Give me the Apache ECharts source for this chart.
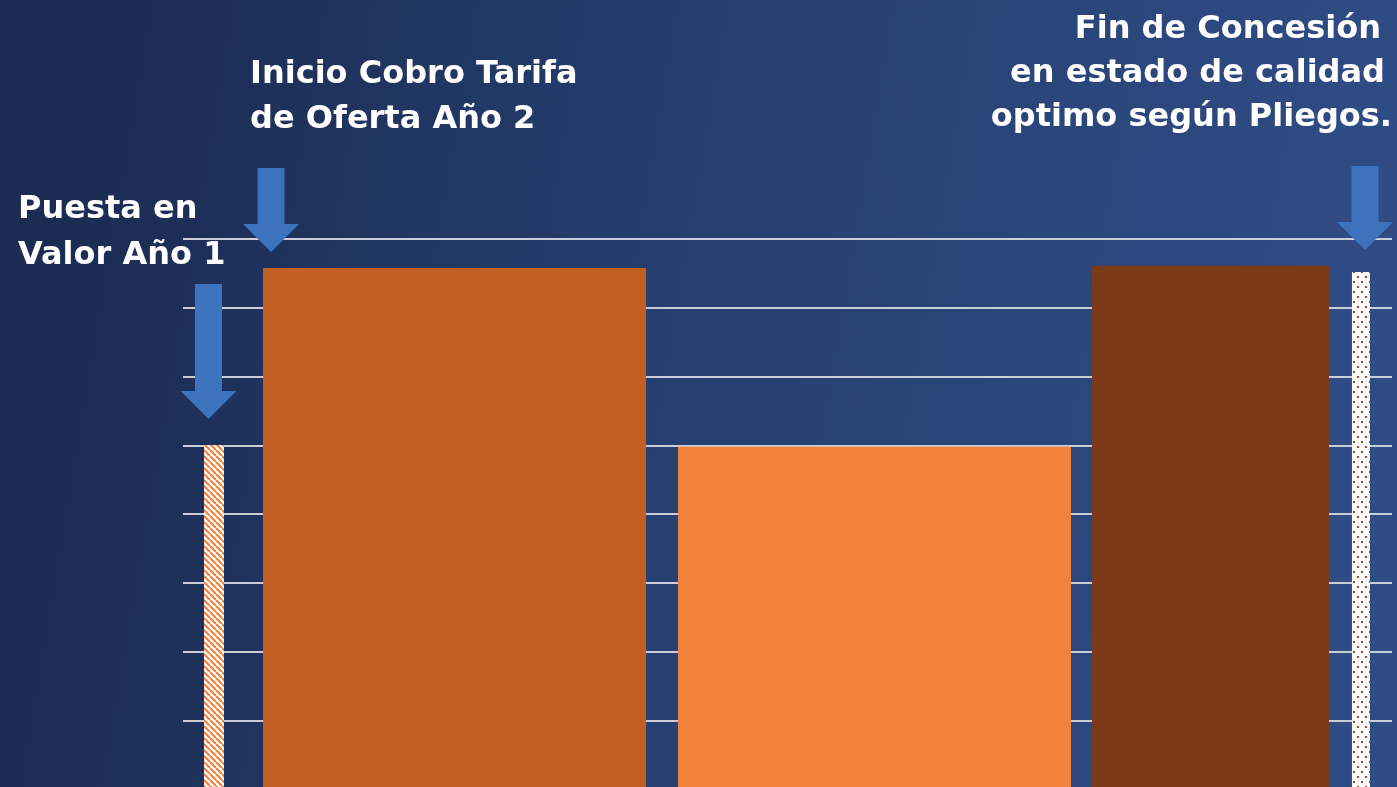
<!DOCTYPE html>
<html>
<head>
<meta charset="utf-8">
<script src="https://cdn.jsdelivr.net/npm/echarts@6/dist/echarts.min.js"></script>
<style>
html,body{margin:0;padding:0;background:#1d2e56;}
#c{width:1397px;height:787px;}
</style>
</head>
<body>
<div id="c"></div>
<script>
// ---- data ----
const categories = ['Puesta en Valor Año 1', 'Tarifa de Oferta', 'Tarifa', 'Fin de Concesión', 'Estado óptimo'];
const barStart = [1.74, 6.62, 40.94, 75.19, 96.69];
const barEnd   = [3.39, 38.30, 73.45, 94.79, 98.18];
const values   = [5.0, 7.58, 4.98, 7.61, 7.52];
const yTicks   = [0, 1, 2, 3, 4, 5, 6, 7, 8];

// ---- patterns ----
function hatchPattern() {
  const c = document.createElement('canvas');
  c.width = 6; c.height = 6;
  const g = c.getContext('2d');
  g.fillStyle = '#ffffff'; g.fillRect(0, 0, 6, 6);
  g.strokeStyle = '#f2813b'; g.lineWidth = 2.2;
  g.beginPath();
  for (let k = -6; k <= 12; k += 6) { g.moveTo(k, 0); g.lineTo(k + 6, 6); }
  g.stroke();
  return c;
}
function dotPattern() {
  const c = document.createElement('canvas');
  c.width = 8; c.height = 10;
  const g = c.getContext('2d');
  g.fillStyle = '#ffffff'; g.fillRect(0, 0, 8, 10);
  g.fillStyle = '#9b4d22';
  g.fillRect(1, 1, 2, 2);
  g.fillRect(5, 6, 2, 2);
  return c;
}
const fills = [
  { image: hatchPattern(), repeat: 'repeat' },
  '#c45f24',
  '#f2813b',
  '#7b3a18',
  { image: dotPattern(), repeat: 'repeat' }
];

const data = categories.map((n, i) => ({ name: n, value: [barStart[i], barEnd[i], values[i]] }));

const chart = echarts.init(document.getElementById('c'), null, { renderer: 'canvas' });

function arrow(cx, top, tip) {
  const sw = 13.5, hw = 28, headTop = tip - 28;
  return {
    type: 'polygon', z: 10,
    shape: { points: [[cx - sw, top], [cx + sw, top], [cx + sw, headTop], [cx + hw, headTop], [cx, tip], [cx - hw, headTop], [cx - sw, headTop]] },
    style: { fill: '#3d72bc' }
  };
}
const FONT = 'bold 32px "DejaVu Sans"';

chart.setOption({
  animation: false,
  backgroundColor: {
    type: 'linear', x: 0, y: 0, x2: 1, y2: 0.3,
    colorStops: [
      { offset: 0, color: '#1b2b51' },
      { offset: 0.16, color: '#1d2f58' },
      { offset: 0.5, color: '#263f6f' },
      { offset: 1, color: '#2f4c85' }
    ]
  },
  grid: { left: 183, width: 1209, top: 239, height: 550, containLabel: false, outerBoundsMode: 'none' },
  xAxis: { type: 'value', min: 0, max: 100, show: false },
  yAxis: {
    type: 'value', min: yTicks[0], max: yTicks[yTicks.length - 1], interval: 1,
    axisLine: { show: false }, axisTick: { show: false }, axisLabel: { show: false },
    splitLine: { show: true, lineStyle: { color: '#c9ced8', width: 2 } }
  },
  series: [{
    type: 'custom',
    data: data,
    clip: false,
    renderItem: function (params, api) {
      const p0 = api.coord([api.value(0), api.value(2)]);
      const p1 = api.coord([api.value(1), 0]);
      return {
        type: 'rect',
        shape: { x: p0[0], y: p0[1], width: p1[0] - p0[0], height: p1[1] - p0[1] },
        style: { fill: fills[params.dataIndex] }
      };
    }
  }],
  graphic: [
    arrow(208.5, 284, 419),
    arrow(271, 168, 252),
    arrow(1365, 166, 250),
    { type: 'text', left: 18, top: 194, style: { text: 'Puesta en', fill: '#fff', font: FONT } },
    { type: 'text', left: 18, top: 240, style: { text: 'Valor Año 1', fill: '#fff', font: FONT } },
    { type: 'text', left: 250, top: 59, style: { text: 'Inicio Cobro Tarifa', fill: '#fff', font: FONT } },
    { type: 'text', left: 250, top: 104, style: { text: 'de Oferta Año 2', fill: '#fff', font: FONT } },
    { type: 'text', right: 16, top: 14, style: { text: 'Fin de Concesión', fill: '#fff', font: FONT } },
    { type: 'text', right: 12, top: 58, style: { text: 'en estado de calidad', fill: '#fff', font: FONT } },
    { type: 'text', right: 5, top: 102, style: { text: 'optimo según Pliegos.', fill: '#fff', font: FONT } }
  ]
});
</script>
</body>
</html>
